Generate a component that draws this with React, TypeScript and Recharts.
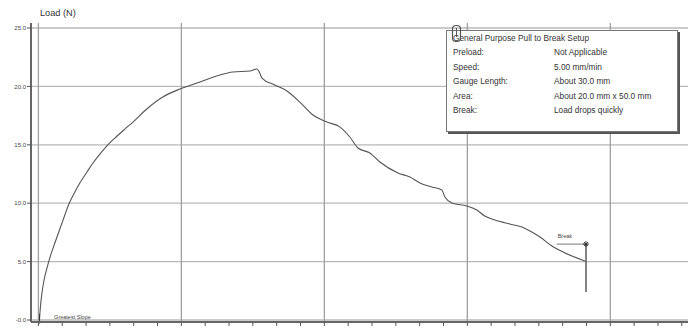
import {
  LineChart,
  Line,
  XAxis,
  YAxis,
  ReferenceLine,
  ReferenceDot
} from 'recharts';

// extension (grid units) vs load (N)
const extension = [
  0.04, 0.06, 0.1, 0.15, 0.23, 0.36, 0.52, 0.69, 0.9, 1.11, 1.28, 1.53, 1.74, 2.04, 2.29,
  2.58, 2.83, 3.21, 3.63, 3.97, 4.55, 5.22, 5.94, 6.78, 7.62, 8.16, 8.88, 9.17, 9.29,
  9.38, 9.92, 10.43, 10.97, 11.52, 12.11, 12.66, 13.07, 13.41, 13.91, 14.33, 15.09,
  15.59, 16.01, 16.51, 16.93, 17.06, 17.35, 17.98, 18.4, 18.73, 19.16, 19.78, 20.29,
  20.63, 21.05, 21.55, 22.02, 22.94
];
const load = [
  0, 0.5, 1.45, 2.31, 3.34, 4.45, 5.57, 6.59, 7.79, 8.99, 9.93, 10.96, 11.73, 12.67, 13.44,
  14.21, 14.81, 15.58, 16.35, 16.95, 18.07, 19.09, 19.78, 20.38, 20.98, 21.23, 21.32, 21.49, 21.15,
  20.72, 20.12, 19.61, 18.66, 17.55, 16.95, 16.52, 15.67, 14.73, 14.3, 13.53, 12.59,
  12.24, 11.73, 11.39, 11.13, 10.53, 10.02, 9.76, 9.42, 8.9, 8.56, 8.22, 7.96,
  7.62, 7.11, 6.34, 5.82, 5.05
];

const yTicks = [0, 5, 10, 15, 20, 25];
const yTickLabels = ['-0.0', '5.0', '10.0', '15.0', '20.0', '25.0'];
const xMinorTicks = Array.from({ length: 28 }, (_, i) => i);
const xMajorTicks = [0, 6, 12, 18, 24];

const breakPoint = { x: 22.98, top: 6.5, bottom: 2.4, labelStart: 21.75 };
const slopePoint = { x: 0.05, y: 0 };

const setupRows = [
  ['Preload:', 'Not Applicable'],
  ['Speed:', '5.00 mm/min'],
  ['Gauge Length:', 'About 30.0 mm'],
  ['Area:', 'About 20.0 mm x 50.0 mm'],
  ['Break:', 'Load drops quickly']
];

const data = extension.map((x, i) => ({ x, load: load[i] }));

const font = '"Liberation Sans", Arial, sans-serif';
const gridColor = '#b8b8b8';

const BreakStar = (props: any) => {
  const { cx, cy } = props;
  return (
    <g stroke="#333" strokeWidth={1}>
      <line x1={cx - 3} y1={cy} x2={cx + 3} y2={cy} />
      <line x1={cx} y1={cy - 3} x2={cx} y2={cy + 3} />
      <line x1={cx - 2} y1={cy - 2} x2={cx + 2} y2={cy + 2} />
      <line x1={cx - 2} y1={cy + 2} x2={cx + 2} y2={cy - 2} />
    </g>
  );
};

export default function App() {
  return (
    <div style={{ position: 'absolute', left: 0, top: 0, width: 694, height: 329, background: '#fff', fontFamily: font }}>
      <div style={{ position: 'absolute', left: 40, top: 8, fontSize: 9.2, color: '#333' }}>Load (N)</div>

      <LineChart width={694} height={329} data={data} margin={{ top: 23, right: 6, bottom: 0, left: 0 }}>
        <XAxis
          dataKey="x"
          type="number"
          domain={[-0.31, 27.26]}
          ticks={xMinorTicks}
          allowDataOverflow
          height={7}
          tickFormatter={() => ''}
          tickSize={4}
          tickLine={{ stroke: '#555' }}
          axisLine={{ stroke: '#666', strokeWidth: 2 }}
        />
        <XAxis xAxisId="top" orientation="top" type="number" domain={[-0.31, 27.26]} height={0} tick={false} tickLine={false} axisLine={{ stroke: '#666', strokeWidth: 2 }} />
        <YAxis
          type="number"
          domain={[-0.17, 25.43]}
          ticks={yTicks}
          allowDataOverflow
          width={31}
          tickSize={4}
          tickLine={{ stroke: '#555' }}
          axisLine={{ stroke: '#666', strokeWidth: 2 }}
          tickFormatter={(v: number) => yTickLabels[yTicks.indexOf(v)]}
          tick={{ fontSize: 6, fill: '#444', fontFamily: font }}
          tickMargin={1}
        />
        <YAxis yAxisId="right" orientation="right" width={0} tick={false} tickLine={false} axisLine={{ stroke: '#666', strokeWidth: 2 }} />

        {yTicks.map((v) => (
          <ReferenceLine key={'h' + v} y={v} stroke={gridColor} strokeWidth={1.3} />
        ))}
        {xMajorTicks.map((v) => (
          <ReferenceLine key={'v' + v} x={v} stroke="#a0a0a0" strokeWidth={1.3} />
        ))}

        <Line type="monotone" dataKey="load" stroke="#555" strokeWidth={1.1} dot={false} isAnimationActive={false} />

        {/* break marker */}
        <ReferenceLine
          segment={[{ x: breakPoint.x, y: breakPoint.top }, { x: breakPoint.x, y: breakPoint.bottom }]}
          stroke="#444"
          strokeWidth={1.3}
        />
        <ReferenceLine
          segment={[{ x: breakPoint.labelStart, y: breakPoint.top }, { x: breakPoint.x, y: breakPoint.top }]}
          stroke="#555"
          strokeWidth={0.8}
          label={{ value: 'Break', position: 'insideBottomLeft', fontSize: 5.5, fill: '#444', dy: -1, dx: -4 }}
        />
        <ReferenceDot x={breakPoint.x} y={breakPoint.top} r={3} shape={BreakStar} />

        {/* greatest slope marker */}
        <ReferenceLine
          segment={[{ x: slopePoint.x, y: slopePoint.y - 0.3 }, { x: slopePoint.x, y: slopePoint.y + 0.5 }]}
          stroke="#333"
          strokeWidth={1}
          ifOverflow="visible"
        />
        <ReferenceDot
          x={0.45}
          y={0.25}
          r={0}
          label={{ value: 'Greatest Slope', position: 'right', fontSize: 5.5, fill: '#444' }}
        />
      </LineChart>

      {/* test setup box */}
      <div
        style={{
          position: 'absolute',
          left: 446,
          top: 30,
          width: 232,
          height: 102,
          background: '#fff',
          border: '1px solid #777',
          boxShadow: '2px 2px 0 #555',
          fontSize: 8.3,
          color: '#333',
          boxSizing: 'border-box',
          padding: '0 0 0 6px',
          lineHeight: '14.4px'
        }}
      >
        <div style={{ height: 14.4 }}>General Purpose Pull to Break Setup</div>
        {setupRows.map(([k, v]) => (
          <div key={k} style={{ display: 'flex', height: 14.4 }}>
            <span style={{ width: 101 }}>{k}</span>
            <span>{v}</span>
          </div>
        ))}
      </div>
      <svg style={{ position: 'absolute', left: 451, top: 24 }} width={12} height={20}>
        <rect x={1.5} y={1.5} width={8} height={16} rx={3.5} fill="none" stroke="#555" strokeWidth={1.2} />
        <line x1={5.5} y1={4} x2={5.5} y2={13} stroke="#555" strokeWidth={1} />
      </svg>
    </div>
  );
}
